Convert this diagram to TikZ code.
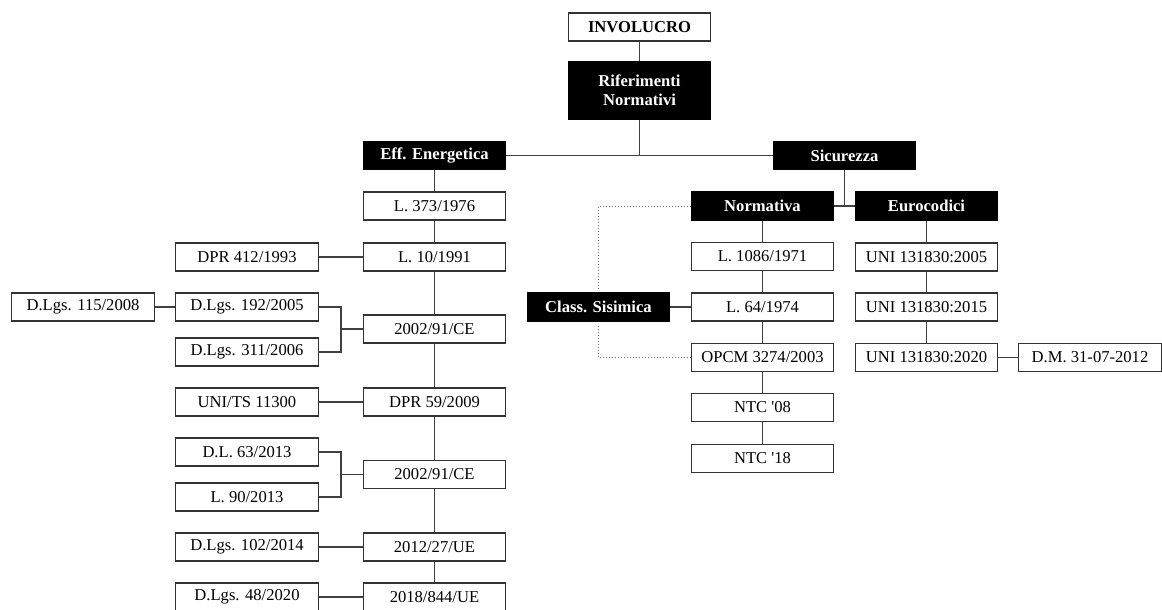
\documentclass[tikz,border=0pt]{standalone}
\usepackage{fontspec}
\setmainfont{Liberation Serif}
\begin{document}
\begin{tikzpicture}[x=1pt,y=-1pt,
  font=\fontsize{16.6pt}{19pt}\selectfont,
  box/.style={draw=black!80, line width=1.4pt, fill=white,
    minimum width=142.5pt, minimum height=28pt, inner sep=0pt, align=center},
  head/.style={box, fill=black, draw=black, text=white,
    font=\fontsize{16.6pt}{19pt}\selectfont\bfseries},
  link/.style={draw=black!75, line width=1.6pt},
  hint/.style={draw=black!55, line width=1pt, dotted}]

\useasboundingbox (0,0) rectangle (1162,610);

% top of the tree
\node[box, font=\fontsize{16.6pt}{19pt}\selectfont\bfseries] (inv) at (639.5,27) {INVOLUCRO};
\node[head, minimum height=57pt] (rif) at (639.5,90.5) {Riferimenti\\Normativi};
\node[head] (eff) at (434.5,155.5) {Eff. Energetica};
\node[head] (sic) at (844.5,155.5) {Sicurezza};

% energy efficiency: main chain
\node[box] (l373)  at (434.5,206)   {L. 373/1976};
\node[box] (l10)   at (434.5,257)   {L. 10/1991};
\node[box] (ce1)   at (434.5,329)   {2002/91/CE};
\node[box] (dpr59) at (434.5,402)   {DPR 59/2009};
\node[box] (ce2)   at (434.5,474.5) {2002/91/CE};
\node[box] (ue27)  at (434.5,547)   {2012/27/UE};
\node[box] (ue844) at (434.5,597)   {2018/844/UE};

% energy efficiency: side acts
\node[box] (dpr412) at (247,257) {DPR 412/1993};
\node[box] (d192)   at (247,307) {D.Lgs. 192/2005};
\node[box] (d311)   at (247,352) {D.Lgs. 311/2006};
\node[box] (d115)   at (83,307)  {D.Lgs. 115/2008};
\node[box] (uni11300) at (247,402) {UNI/TS 11300};
\node[box] (dl63)   at (247,452) {D.L. 63/2013};
\node[box] (l90)    at (247,497) {L. 90/2013};
\node[box] (d102)   at (247,547) {D.Lgs. 102/2014};
\node[box] (d48)    at (247,597) {D.Lgs. 48/2020};

% safety: regulations
\node[head] (norm)  at (762.5,206)   {Normativa};
\node[box]  (l1086) at (762.5,256.5) {L. 1086/1971};
\node[box]  (l64)   at (762.5,307)   {L. 64/1974};
\node[box]  (opcm)  at (762.5,357.5) {OPCM 3274/2003};
\node[box]  (ntc08) at (762.5,407.5) {NTC \textquotesingle08};
\node[box]  (ntc18) at (762.5,458.5) {NTC \textquotesingle18};
\node[head] (class) at (598.5,307)   {Class. Sisimica};

% safety: Eurocodes
\node[head] (euro) at (926.5,206)   {Eurocodici};
\node[box]  (u05)  at (926.5,257)   {UNI 131830:2005};
\node[box]  (u15)  at (926.5,307)   {UNI 131830:2015};
\node[box]  (u20)  at (926.5,357.5) {UNI 131830:2020};
\node[box]  (dm)   at (1090,357.5)  {D.M. 31-07-2012};

% connectors
\draw[link] (inv) -- (rif);
\draw[link] (eff.east) -- (sic.west);
\draw[link] (rif.south) -- (rif.south |- eff.east);
\draw[link] (eff) -- (l373) -- (l10) -- (ce1) -- (dpr59) -- (ce2) -- (ue27) -- (ue844);
\draw[link] (dpr412) -- (l10);
\draw[link] (d115) -- (d192);
\coordinate (bra1) at (341,329);
\coordinate (bra2) at (341,474.5);
\draw[link] (d192.east) -| (bra1) |- (d311.east);
\draw[link] (bra1) -- (ce1.west);
\draw[link] (dl63.east) -| (bra2) |- (l90.east);
\draw[link] (bra2) -- (ce2.west);
\draw[link] (uni11300) -- (dpr59);
\draw[link] (d102) -- (ue27);
\draw[link] (d48) -- (ue844);

\draw[link] (sic.south) -- (sic.south |- norm.east);
\draw[link] (norm.east) -- (euro.west);
\draw[link] (norm) -- (l1086) -- (l64) -- (opcm) -- (ntc08) -- (ntc18);
\draw[link] (class) -- (l64);
\draw[link] (euro) -- (u05) -- (u15) -- (u20) -- (dm);

\draw[hint] (norm.west) -| ([yshift=4pt]class.north);
\draw[hint] ([yshift=-4pt]class.south) |- (opcm.west);
\end{tikzpicture}
\end{document}
